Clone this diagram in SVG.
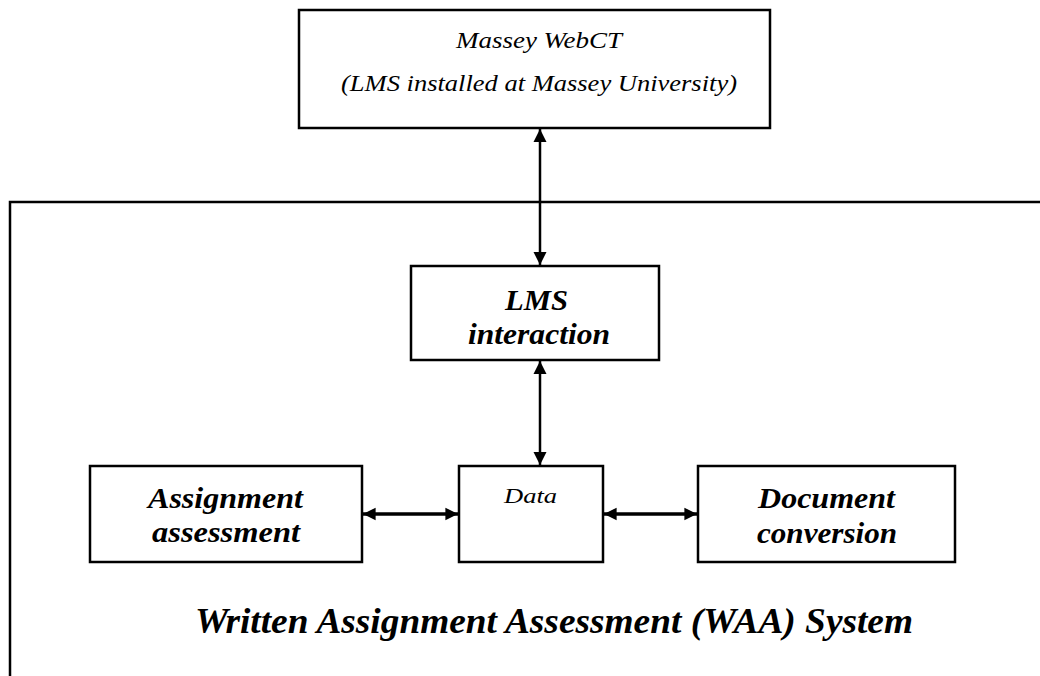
<svg xmlns="http://www.w3.org/2000/svg" width="1040" height="676" viewBox="0 0 1040 676">
<style>
.box{fill:#fff;stroke:#000;stroke-width:2.5}
.frame{fill:none;stroke:#000;stroke-width:2.5}
.t{font-family:"Liberation Serif","Times New Roman",serif;font-style:italic;fill:#000}
.b{font-weight:bold}
.con{stroke:#000;stroke-width:2.5;fill:none;marker-start:url(#ah);marker-end:url(#ah)}
.hcon{stroke-width:3.5;marker-start:url(#ah2);marker-end:url(#ah2)}
</style>
<defs>
<marker id="ah" viewBox="0 0 10 10" refX="10" refY="5" markerWidth="5.2" markerHeight="5.6" orient="auto-start-reverse" markerUnits="strokeWidth">
<path d="M0,0 L10,5 L0,10 z" fill="#000"/>
</marker>
<marker id="ah2" viewBox="0 0 10 10" refX="10" refY="5" markerWidth="3.6" markerHeight="4.4" orient="auto-start-reverse" markerUnits="strokeWidth">
<path d="M0,0 L10,5 L0,10 z" fill="#000"/>
</marker>
</defs>
<g id="frame"><path class="frame" d="M10,676 L10,202 L1040,202"/></g>
<g id="connectors">
<line class="con" x1="540" y1="129" x2="540" y2="265"/>
<line class="con" x1="540" y1="361" x2="540" y2="465"/>
<line class="con hcon" x1="363" y1="514" x2="458" y2="514"/>
<line class="con hcon" x1="604" y1="514" x2="697" y2="514"/>
</g>
<g id="webct">
<rect class="box" x="299" y="10" width="471" height="118"/>
<text class="t" x="456" y="48" font-size="24" textLength="166" lengthAdjust="spacingAndGlyphs">Massey WebCT</text>
<text class="t" x="341" y="91" font-size="24" textLength="396" lengthAdjust="spacingAndGlyphs">(LMS installed at Massey University)</text>
</g>
<g id="lms">
<rect class="box" x="411" y="266" width="248" height="94"/>
<text class="t b" x="505" y="310" font-size="29" textLength="63" lengthAdjust="spacingAndGlyphs">LMS</text>
<text class="t b" x="468" y="344" font-size="29" textLength="142" lengthAdjust="spacingAndGlyphs">interaction</text>
</g>
<g id="assign">
<rect class="box" x="90" y="466" width="272" height="96"/>
<text class="t b" x="148" y="508" font-size="30" textLength="155" lengthAdjust="spacingAndGlyphs">Assignment</text>
<text class="t b" x="152" y="542" font-size="30" textLength="148" lengthAdjust="spacingAndGlyphs">assessment</text>
</g>
<g id="data">
<rect class="box" x="459" y="466" width="144" height="96"/>
<text class="t" x="504" y="503" font-size="22" textLength="53" lengthAdjust="spacingAndGlyphs">Data</text>
</g>
<g id="doc">
<rect class="box" x="698" y="466" width="257" height="96"/>
<text class="t b" x="758" y="508" font-size="30" textLength="137" lengthAdjust="spacingAndGlyphs">Document</text>
<text class="t b" x="757" y="543" font-size="30" textLength="140" lengthAdjust="spacingAndGlyphs">conversion</text>
</g>
<g id="title">
<text class="t b" x="195" y="633" font-size="36" textLength="718" lengthAdjust="spacingAndGlyphs">Written Assignment Assessment (WAA) System</text>
</g>
</svg>
